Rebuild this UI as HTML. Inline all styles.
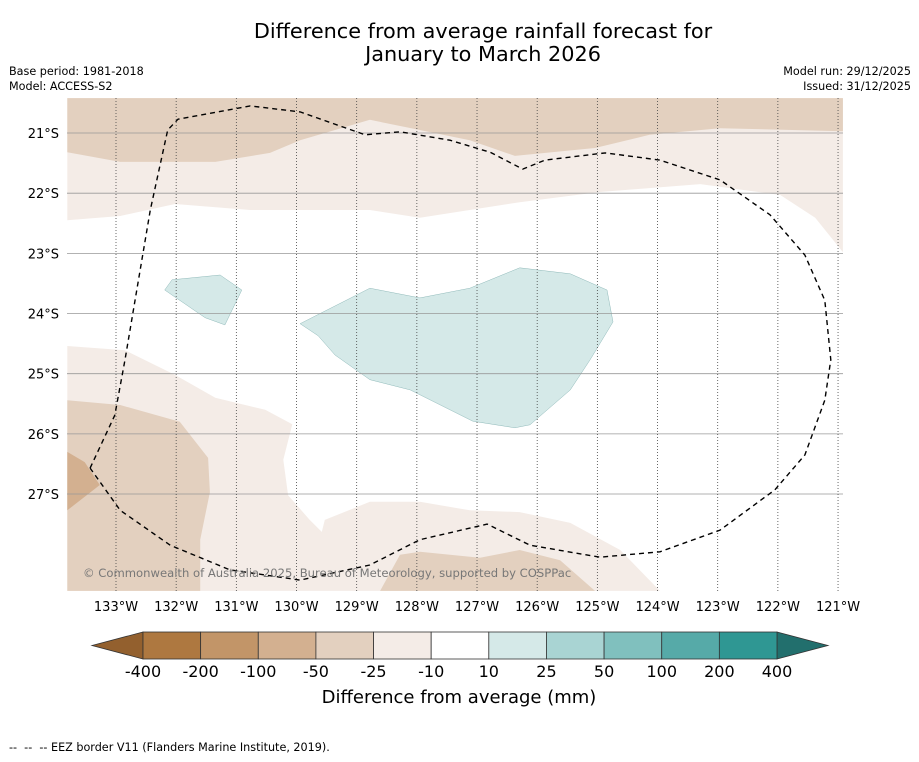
<!DOCTYPE html>
<html><head><meta charset="utf-8"><style>
body{margin:0;background:#fff;width:919px;height:758px;overflow:hidden;font-family:"DejaVu Sans","Liberation Sans",sans-serif}
svg text{font-family:"DejaVu Sans","Liberation Sans",sans-serif}
</style></head><body>
<svg id="c" width="919" height="758">
<text x="483" y="38" font-size="20.8" text-anchor="middle">Difference from average rainfall forecast for</text>
<text x="483" y="61" font-size="20.8" text-anchor="middle">January to March 2026</text>
<text x="9" y="75" font-size="11.2">Base period: 1981-2018</text>
<text x="9" y="90" font-size="11.2">Model: ACCESS-S2</text>
<text x="911" y="75" font-size="11.2" text-anchor="end">Model run: 29/12/2025</text>
<text x="911" y="90" font-size="11.2" text-anchor="end">Issued: 31/12/2025</text>
<defs><clipPath id="mc"><rect x="67" y="98" width="776" height="493"/></clipPath></defs>
<g id="map" clip-path="url(#mc)"></g>
<g id="ax"></g>
<g id="cb"></g>
<text x="83" y="577" font-size="11.6" fill="#777">© Commonwealth of Australia 2025, Bureau of Meteorology, supported by COSPPac</text>
<text x="459" y="703" font-size="18" text-anchor="middle">Difference from average (mm)</text>
<text x="9" y="751" font-size="11.2" xml:space="preserve">--  --  -- EEZ border V11 (Flanders Marine Institute, 2019).</text>
</svg>
<script>
const lonTicks=[-133,-132,-131,-130,-129,-128,-127,-126,-125,-124,-123,-122,-121];
const latTicks=[-21,-22,-23,-24,-25,-26,-27];
const cbLevels=["-400","-200","-100","-50","-25","-10","10","25","50","100","200","400"];
const cbColors=["#ae7840","#c29568","#d3b090","#e3d0bf","#f4ece7","#ffffff","#d5e9e8","#a9d4d3","#80c0be","#56aaa8","#2f9793"];
const topLight=[[-133.81,-20.42],[-120.92,-20.42],[-120.92,-22.98],[-121.38,-22.41],[-121.96,-22.03],[-123.29,-21.85],[-124.96,-21.98],[-126.29,-22.15],[-127.95,-22.41],[-128.78,-22.28],[-130.77,-22.28],[-132.02,-22.18],[-132.93,-22.38],[-133.81,-22.45]];
const topBrown=[[-133.81,-20.42],[-120.92,-20.42],[-120.92,-20.97],[-122.96,-20.92],[-124.13,-21.03],[-125.04,-21.25],[-126.37,-21.38],[-127.12,-21.12],[-128.78,-20.78],[-129.94,-21.12],[-130.44,-21.33],[-131.35,-21.48],[-132.93,-21.48],[-133.81,-21.32]];
const bottomLight=[[-133.81,-24.54],[-132.85,-24.61],[-132.02,-25.02],[-131.35,-25.40],[-130.52,-25.60],[-130.07,-25.84],[-130.22,-26.43],[-130.14,-27.02],[-129.78,-27.43],[-129.58,-27.63],[-129.53,-27.43],[-128.78,-27.13],[-127.95,-27.13],[-127.12,-27.27],[-126.29,-27.30],[-125.45,-27.48],[-124.62,-27.93],[-123.96,-28.61],[-133.81,-28.61]];
const leftBrown=[[-133.81,-25.44],[-132.93,-25.52],[-131.94,-25.80],[-131.47,-26.40],[-131.44,-26.97],[-131.60,-27.76],[-131.60,-28.61],[-133.81,-28.61]];
const bottomBrown=[[-128.61,-28.61],[-128.28,-28.01],[-127.95,-27.96],[-126.95,-28.06],[-126.29,-27.93],[-125.62,-28.10],[-125.04,-28.61]];
const darkBrown=[[-133.81,-26.30],[-133.52,-26.47],[-133.27,-26.85],[-133.81,-27.27]];
const tealMain=[[-129.94,-24.17],[-128.78,-23.58],[-127.95,-23.74],[-127.12,-23.58],[-126.29,-23.24],[-125.45,-23.34],[-124.84,-23.61],[-124.74,-24.14],[-125.12,-24.77],[-125.45,-25.27],[-126.12,-25.85],[-126.37,-25.90],[-127.07,-25.79],[-128.11,-25.27],[-128.78,-25.10],[-129.36,-24.69],[-129.64,-24.37]];
const tealSmall=[[-132.19,-23.61],[-132.07,-23.44],[-131.27,-23.36],[-130.91,-23.61],[-131.19,-24.19],[-131.52,-24.07]];
const eez=[[-133.43,-26.57],[-133.02,-25.69],[-132.85,-24.77],[-132.43,-22.28],[-132.14,-20.95],[-131.97,-20.77],[-130.77,-20.55],[-129.94,-20.65],[-128.86,-21.03],[-128.28,-20.98],[-127.45,-21.12],[-126.78,-21.32],[-126.24,-21.60],[-125.87,-21.45],[-124.87,-21.33],[-123.96,-21.45],[-122.96,-21.78],[-122.13,-22.36],[-121.55,-23.03],[-121.22,-23.78],[-121.12,-24.77],[-121.22,-25.44],[-121.55,-26.35],[-122.05,-26.93],[-122.96,-27.60],[-123.96,-27.96],[-124.96,-28.05],[-126.12,-27.85],[-126.83,-27.50],[-127.95,-27.76],[-128.78,-28.18],[-129.94,-28.43],[-131.11,-28.26],[-132.10,-27.85],[-132.93,-27.27],[-133.43,-26.57]];
const NS="http://www.w3.org/2000/svg";
const X=lon=>116+(lon+133)*60.17, Y=lat=>133+(-21-lat)*60.17;
function mk(t,a,p){const e=document.createElementNS(NS,t);for(const k in a)e.setAttribute(k,a[k]);p.appendChild(e);return e;}
const map=document.getElementById('map'),ax=document.getElementById('ax'),cb=document.getElementById('cb');
const pts=a=>a.map(p=>X(p[0]).toFixed(1)+','+Y(p[1]).toFixed(1)).join(' ');
const shapes=[[topLight,"#f4ece7","contour-top-light"],[topBrown,"#e3d0bf","contour-top-brown"],[bottomLight,"#f4ece7","contour-bottom-light"],[leftBrown,"#e3d0bf","contour-left-brown"],[bottomBrown,"#e3d0bf","contour-bottom-brown"],[darkBrown,"#d3b090","contour-dark-brown"],[tealMain,"#d5e9e8","contour-teal-main"],[tealSmall,"#d5e9e8","contour-teal-small"]];
shapes.forEach(s=>{const e=mk('polygon',{points:pts(s[0]),fill:s[1],stroke:s[1].startsWith('#d5')?'#7aa':'none','stroke-width':0.4},map);

});
latTicks.forEach(l=>{const e=mk('line',{x1:67,x2:843,y1:Y(l),y2:Y(l),stroke:'#999','stroke-width':0.8},map);


const t=mk('text',{x:59,y:Y(l)+5,'font-size':13,'text-anchor':'end'},ax);t.textContent=(-l)+'°S';

});
lonTicks.forEach(l=>{const e=mk('line',{x1:X(l),x2:X(l),y1:98,y2:591,stroke:'#444','stroke-width':0.8,'stroke-dasharray':'1,2'},map);


const t=mk('text',{x:X(l),y:611,'font-size':13,'text-anchor':'middle'},ax);t.textContent=(-l)+'°W';

});
const ez=mk('polyline',{points:pts(eez),fill:'none',stroke:'#000','stroke-width':1.4,'stroke-dasharray':'5,4','stroke-linejoin':'round'},map);


const x0=143,w=(777-143)/11,y0=632,h=27;
const l1=mk('polygon',{points:`92,${y0+h/2} ${x0},${y0} ${x0},${y0+h}`,fill:'#93602e',stroke:'#333','stroke-width':0.8},cb);


const l2=mk('polygon',{points:`828,${y0+h/2} 777,${y0} 777,${y0+h}`,fill:'#226f6d',stroke:'#333','stroke-width':0.8},cb);


cbColors.forEach((c,i)=>{const r=mk('rect',{x:x0+i*w,y:y0,width:w,height:h,fill:c,stroke:'#333','stroke-width':0.8},cb);

});
cbLevels.forEach((v,i)=>{const t=mk('text',{x:x0+i*w,y:677,'font-size':16,'text-anchor':'middle'},cb);t.textContent=v;

});
</script>
</body></html>
